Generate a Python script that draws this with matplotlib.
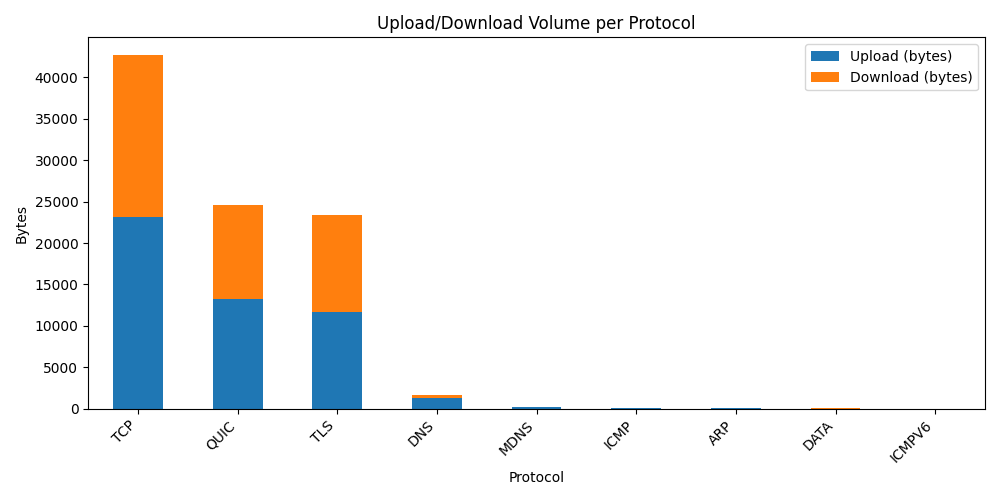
import pandas as pd
import matplotlib
matplotlib.use("Agg")
import matplotlib.pyplot as plt

protocols = ["TCP", "QUIC", "TLS", "DNS", "MDNS", "ICMP", "ARP", "DATA", "ICMPV6"]
upload = [23150, 13250, 11700, 1330, 250, 120, 110, 0, 20]
download = [19550, 11350, 11650, 360, 0, 0, 0, 120, 0]

df = pd.DataFrame({"Upload (bytes)": upload, "Download (bytes)": download}, index=protocols)

ax = df.plot(kind="bar", stacked=True, figsize=(10, 5))
ax.set_title("Upload/Download Volume per Protocol")
ax.set_xlabel("Protocol")
ax.set_ylabel("Bytes")
plt.xticks(rotation=45, ha="right")
plt.tight_layout()
plt.savefig("out.png", dpi=100)
plt.close()
